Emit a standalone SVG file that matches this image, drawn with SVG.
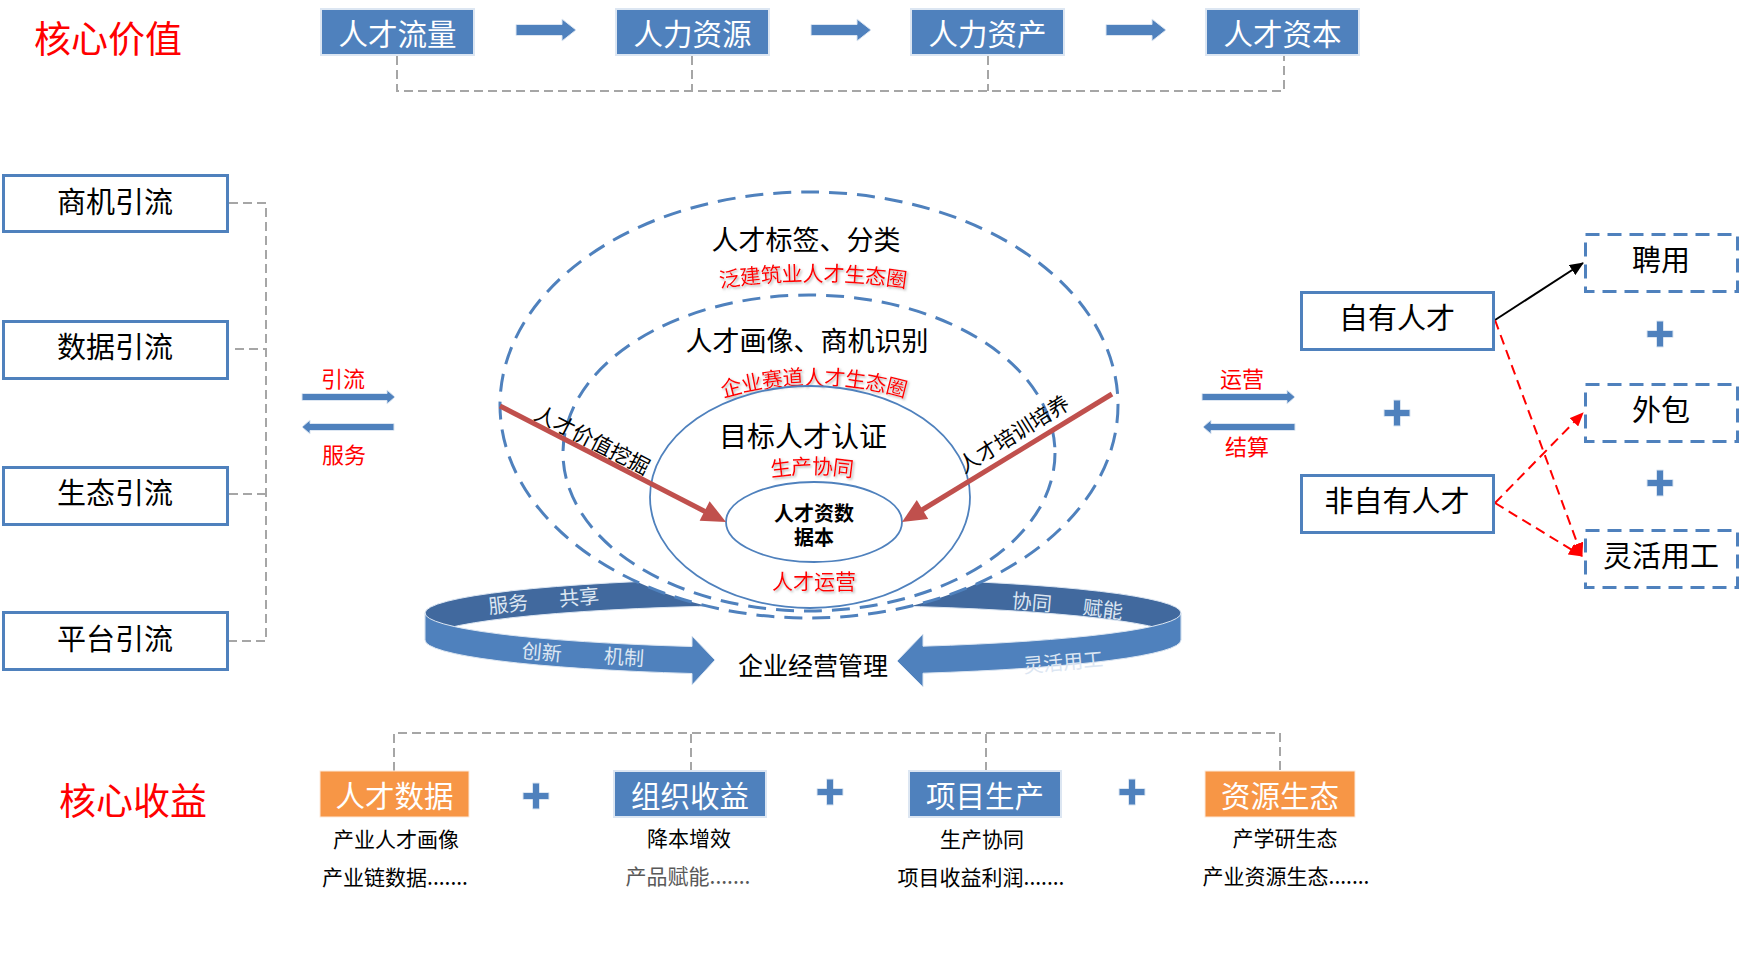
<svg xmlns="http://www.w3.org/2000/svg" width="1740" height="973" viewBox="0 0 1740 973">
<defs>
<style>
text{font-family:"Noto Sans CJK SC","Liberation Sans",sans-serif;text-anchor:middle;dominant-baseline:central;}
.blue{fill:#4F81BD;stroke:#DCE6F2;stroke-width:2;}
.orange{fill:#F79646;stroke:#FDE9D9;stroke-width:1;}
.wt{fill:#FFFFFF;font-size:29.5px;}
.bt{fill:#000000;font-size:29px;}
.obox{fill:#FFFFFF;stroke:#4F81BD;stroke-width:3;}
.dbox{fill:#FFFFFF;stroke:#4F81BD;stroke-width:3;stroke-dasharray:14 8;}
.gd{fill:none;stroke:#A6A6A6;stroke-width:2;stroke-dasharray:9 5;}
.arr{fill:#4F81BD;stroke:#DCE6F2;stroke-width:1;}
.red{fill:#FF0000;}
.rl{fill:#FF0000;font-size:21px;filter:url(#sh);}
.sub{fill:#000000;font-size:21px;}
.rib{fill:#DCE6F2;font-size:20px;}
.oel{fill:none;stroke:#4F81BD;stroke-width:3;stroke-dasharray:18 10;}
.sel{fill:none;stroke:#4F81BD;stroke-width:1.8;}
.rd{fill:none;stroke:#FF0000;stroke-width:2;stroke-dasharray:10 6;}
</style>
<filter id="sh" x="-10%" y="-30%" width="120%" height="160%">
<feDropShadow dx="1.5" dy="1.5" stdDeviation="1" flood-color="#808080" flood-opacity="0.6"/>
</filter>
<path id="plus" d="M-3.5,-13 h7 v9.5 h9.5 v7 h-9.5 v9.5 h-7 v-9.5 h-9.5 v-7 h9.5 z" fill="#4F81BD" stroke="#DCE6F2" stroke-width="1"/>
<marker id="mBlack" viewBox="0 0 14 12" refX="13" refY="6" markerWidth="14" markerHeight="12" markerUnits="userSpaceOnUse" orient="auto">
<path d="M0,0 L14,6 L0,12 z" fill="#000000"/>
</marker>
<marker id="mRed" viewBox="0 0 14 12" refX="13" refY="6" markerWidth="14" markerHeight="12" markerUnits="userSpaceOnUse" orient="auto">
<path d="M0,0 L14,6 L0,12 z" fill="#FF0000"/>
</marker>
<path id="tp1" d="M712 280 Q813 264 914 280"/>
<path id="tp2" d="M714 391 Q814 360 914 391"/>
<path id="tp3" d="M766 469 Q812 461 858 469"/>
</defs>

<rect width="1740" height="973" fill="#FFFFFF"/>

<!-- connectors -->
<g id="connectors">
<path class="gd" d="M397 56 V91 H1284 V56 M692 56 V91 M988 56 V91"/>
<path class="gd" d="M229 203 H266 V641 H229 M235 349 H266 M229 494 H266"/>
<path class="gd" d="M394 771 V733 H1280 V771 M691 771 V733 M986 771 V733"/>
<path class="arr" d="M516 24.5 H562 V19 L576 30 L562 41 V35.5 H516 Z"/>
<path class="arr" d="M811 24.5 H857 V19 L871 30 L857 41 V35.5 H811 Z"/>
<path class="arr" d="M1106 24.5 H1152 V19 L1166 30 L1152 41 V35.5 H1106 Z"/>
<path class="arr" d="M302 393.5 H387 V390 L395 397 L387 404 V400.5 H302 Z"/>
<path class="arr" d="M394 423.5 H310 V420 L302 427 L310 434 V430.5 H394 Z"/>
<path class="arr" d="M1202 393.5 H1287 V390 L1295 397 L1287 404 V400.5 H1202 Z"/>
<path class="arr" d="M1295 423.5 H1211 V420 L1203 427 L1211 434 V430.5 H1295 Z"/>
<line x1="1495" y1="320" x2="1583" y2="263" stroke="#000000" stroke-width="2" marker-end="url(#mBlack)"/>
<line class="rd" x1="1495" y1="320" x2="1582" y2="556" marker-end="url(#mRed)"/>
<line class="rd" x1="1495" y1="503" x2="1583" y2="413" marker-end="url(#mRed)"/>
<line class="rd" x1="1495" y1="503" x2="1582" y2="556" marker-end="url(#mRed)"/>
</g>

<!-- titles -->
<g id="title-value"><text x="108" y="37" class="red" style="font-size:37px">核心价值</text></g>
<g id="title-income"><text x="133" y="799" class="red" style="font-size:37px">核心收益</text></g>

<!-- top row -->
<g id="n-flow"><rect class="blue" x="321" y="9" width="153" height="46"/><text class="wt" x="397.5" y="32">人才流量</text></g>
<g id="n-resource"><rect class="blue" x="616" y="9" width="153" height="46"/><text class="wt" x="692.5" y="32">人力资源</text></g>
<g id="n-asset"><rect class="blue" x="911" y="9" width="153" height="46"/><text class="wt" x="987.5" y="32">人力资产</text></g>
<g id="n-capital"><rect class="blue" x="1206" y="9" width="153" height="46"/><text class="wt" x="1282.5" y="32">人才资本</text></g>

<!-- left column -->
<g id="n-biz"><rect class="obox" x="3.5" y="175.5" width="224" height="56"/><text class="bt" x="115" y="200">商机引流</text></g>
<g id="n-data"><rect class="obox" x="3.5" y="321.5" width="224" height="57"/><text class="bt" x="115" y="345">数据引流</text></g>
<g id="n-eco"><rect class="obox" x="3.5" y="467.5" width="224" height="57"/><text class="bt" x="115" y="491">生态引流</text></g>
<g id="n-plat"><rect class="obox" x="3.5" y="612.5" width="224" height="57"/><text class="bt" x="115" y="637">平台引流</text></g>

<g id="lbl-left">
<text class="red" x="343" y="377" style="font-size:22px">引流</text>
<text class="red" x="344" y="453" style="font-size:22px">服务</text>
</g>
<g id="lbl-right">
<text class="red" x="1242" y="377" style="font-size:22px">运营</text>
<text class="red" x="1247" y="445" style="font-size:22px">结算</text>
</g>

<!-- ribbon back -->
<g id="ring-back">
<path d="M730 578.7 A378 35 0 0 0 425 613 L425 640 A378 35 0 0 1 730 605.7 Z" fill="#41699E" stroke="#DCE6F2" stroke-width="1"/>
<path d="M890 578.9 A378 35 0 0 1 1181 613 L1181 640 A378 35 0 0 0 890 605.9 Z" fill="#41699E" stroke="#DCE6F2" stroke-width="1"/>
</g>

<!-- ellipses -->
<g id="n-outer">
<ellipse cx="809" cy="405" rx="309" ry="213" fill="#FFFFFF" stroke="none"/>
<ellipse class="oel" cx="809" cy="405" rx="309" ry="213"/>
<text x="806" y="238" style="font-size:27px;fill:#000">人才标签、分类</text>
<text class="rl"><textPath href="#tp1" startOffset="50%">泛建筑业人才生态圈</textPath></text>
</g>
<g id="n-middle">
<ellipse class="oel" cx="809" cy="453" rx="246" ry="158"/>
<text x="807" y="339" style="font-size:27px;fill:#000">人才画像、商机识别</text>
<text class="rl"><textPath href="#tp2" startOffset="50%">企业赛道人才生态圈</textPath></text>
</g>
<g id="n-inner">
<ellipse class="sel" cx="810" cy="497" rx="160" ry="111"/>
<text x="803" y="435" style="font-size:28px;fill:#000">目标人才认证</text>
<text class="rl"><textPath href="#tp3" startOffset="50%">生产协同</textPath></text>
<text class="rl" x="814" y="580">人才运营</text>
</g>
<g id="n-core">
<ellipse class="sel" cx="814" cy="522" rx="88" ry="40"/>
<text x="814" y="512" style="font-size:20px;font-weight:bold;fill:#000">人才资数</text>
<text x="814" y="536" style="font-size:20px;font-weight:bold;fill:#000">据本</text>
</g>

<!-- red arrows -->
<g id="n-mining">
<line x1="500" y1="406" x2="705" y2="511.5" stroke="#C0504D" stroke-width="5"/>
<polygon points="726,522 699.6,520.8 709.6,501.2" fill="#C0504D"/>
<text x="593" y="439" transform="rotate(27 593 439)" style="font-size:21px;fill:#000">人才价值挖掘</text>
</g>
<g id="n-training">
<line x1="1112" y1="394" x2="922" y2="510" stroke="#C0504D" stroke-width="5"/>
<polygon points="902,522 916.8,500.1 928.2,518.9" fill="#C0504D"/>
<text x="1013" y="433" transform="rotate(-32 1013 433)" style="font-size:21px;fill:#000">人才培训培养</text>
</g>

<!-- ribbon front -->
<g id="ring-front">
<path d="M425 613 A378 35 0 0 0 692 646.5 L692 636 L715 660 L692 685 L692 673.5 A378 35 0 0 1 425 640 Z" fill="#4F81BD" stroke="#DCE6F2" stroke-width="1"/>
<path d="M1181 613 A378 35 0 0 1 923 646.2 L923 634 L897 661 L923 687 L923 673.2 A378 35 0 0 0 1181 640 Z" fill="#4F81BD" stroke="#DCE6F2" stroke-width="1"/>
<text class="rib" x="508" y="603" transform="rotate(-7 508 603)">服务</text>
<text class="rib" x="579" y="596" transform="rotate(-5 579 596)">共享</text>
<text class="rib" x="542" y="651" transform="rotate(5 542 651)">创新</text>
<text class="rib" x="624" y="656" transform="rotate(4 624 656)">机制</text>
<text class="rib" x="1032" y="601" transform="rotate(5 1032 601)">协同</text>
<text class="rib" x="1103" y="608" transform="rotate(7 1103 608)">赋能</text>
<text class="rib" x="1063" y="661" transform="rotate(-5 1063 661)">灵活用工</text>
</g>
<g id="n-mgmt"><text x="813" y="664" style="font-size:25px;fill:#000">企业经营管理</text></g>

<!-- right side -->
<g id="n-own"><rect class="obox" x="1301.5" y="292.5" width="192" height="57"/><text class="bt" x="1397" y="316">自有人才</text></g>
<g id="n-nonown"><rect class="obox" x="1301.5" y="475.5" width="192" height="57"/><text class="bt" x="1397" y="499">非自有人才</text></g>
<use href="#plus" x="1397" y="413"/>
<g id="n-hire"><rect class="dbox" x="1585.5" y="234.5" width="152" height="57"/><text class="bt" x="1661" y="258">聘用</text></g>
<g id="n-out"><rect class="dbox" x="1585.5" y="384.5" width="152" height="57"/><text class="bt" x="1661" y="408">外包</text></g>
<g id="n-flex"><rect class="dbox" x="1585.5" y="530.5" width="152" height="57"/><text class="bt" x="1661" y="554">灵活用工</text></g>
<use href="#plus" x="1660" y="334"/>
<use href="#plus" x="1660" y="483"/>

<!-- bottom row -->
<g id="n-talentdata"><rect class="orange" x="320" y="771" width="149" height="46"/><text class="wt" x="394.5" y="794">人才数据</text>
<text class="sub" x="396" y="838">产业人才画像</text><text class="sub" x="395" y="876">产业链数据.......</text></g>
<g id="n-org"><rect class="blue" x="614" y="771" width="152" height="46"/><text class="wt" x="690" y="794">组织收益</text>
<text class="sub" x="689" y="837">降本增效</text><text class="sub" x="688" y="875" style="fill:#595959">产品赋能.......</text></g>
<g id="n-proj"><rect class="blue" x="909" y="771" width="152" height="46"/><text class="wt" x="985" y="794">项目生产</text>
<text class="sub" x="982" y="838">生产协同</text><text class="sub" x="981" y="876">项目收益利润.......</text></g>
<g id="n-res"><rect class="orange" x="1205" y="771" width="150" height="46"/><text class="wt" x="1280" y="794">资源生态</text>
<text class="sub" x="1285" y="837">产学研生态</text><text class="sub" x="1286" y="875">产业资源生态.......</text></g>
<use href="#plus" x="536" y="796"/>
<use href="#plus" x="830" y="792"/>
<use href="#plus" x="1132" y="792"/>
</svg>
